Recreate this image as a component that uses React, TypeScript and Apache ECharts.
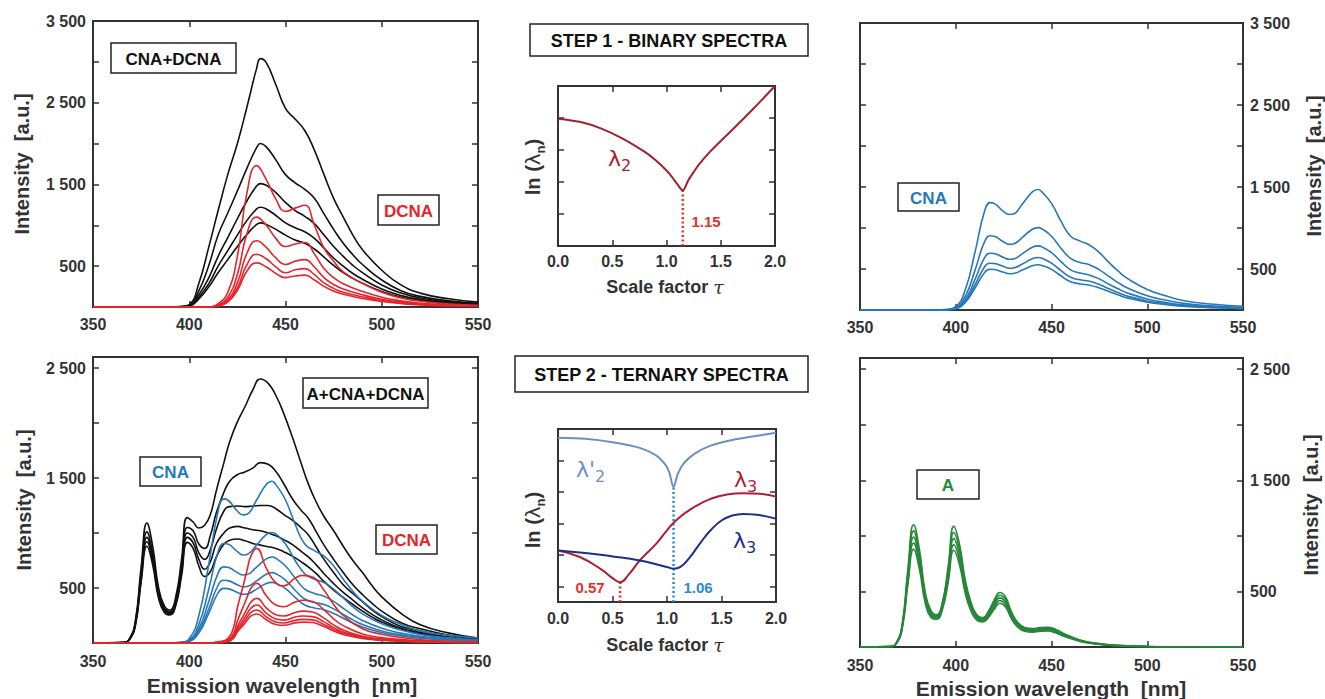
import React, { useEffect, useRef } from 'react';
import * as echarts from 'echarts';

// ---------- colours ----------
const AX = '#333333';
const BLACK = '#111111';
const RED = '#e3262b';
const BLUE = '#2878b8';
const GREEN = '#26873a';
const L2RED = '#a3202f';
const LP2 = '#6d8fc4';
const L3RED = '#b01e35';
const L3NAVY = '#1f2d8c';
const DOT_RED = '#e8302a';
const DOT_BLUE = '#2a8ad8';
const FONT = '"Liberation Sans", Arial, sans-serif';

// ---------- tick labels ----------
const WL_MIN = 350;
const WL_MAX = 550;
const WL_STEP = 50;
const TOP_Y_MAX = 3500;
const BOT_Y_MAX = 2600;
const TOP_Y_TICKS = [500, 1000, 1500, 2000, 2500, 3000];
const TOP_Y_LABELS = [500, 1500, 2500, 3500];
const BOT_Y_TICKS = [500, 1000, 1500, 2000, 2500];
const BOT_Y_LABELS = [500, 1500, 2500];
const TAU_MIN = 0;
const TAU_MAX = 2;
const TAU_STEP = 0.5;

// ---------- top-left: CNA+DCNA (black) and DCNA (red) ----------
const TL_BLACK_X = [350, 390, 395, 400, 405, 410, 415, 420, 425, 430, 435, 437, 440, 445, 450, 455, 460, 465, 470, 475, 480, 485, 490, 500, 510, 520, 535, 550];
const TL_BLACK_1 = [0, 0, 5, 30, 290, 720, 1180, 1620, 2000, 2450, 2920, 3040, 2990, 2720, 2430, 2300, 2160, 1920, 1620, 1330, 1100, 880, 700, 450, 270, 170, 100, 60];
const TL_BLACK_2 = [0, 0, 3, 20, 200, 500, 880, 1150, 1420, 1700, 1950, 2000, 1960, 1800, 1620, 1520, 1440, 1330, 1140, 950, 780, 640, 520, 330, 200, 130, 75, 45];
const TL_BLACK_3 = [0, 0, 2, 15, 150, 350, 620, 850, 1080, 1300, 1480, 1510, 1490, 1400, 1280, 1180, 1110, 1020, 880, 740, 620, 510, 420, 270, 170, 110, 65, 40];
const TL_BLACK_4 = [0, 0, 2, 12, 120, 280, 500, 690, 880, 1060, 1200, 1220, 1200, 1120, 1030, 970, 920, 840, 720, 600, 500, 410, 340, 220, 140, 90, 55, 35];
const TL_BLACK_5 = [0, 0, 1, 10, 100, 240, 420, 580, 740, 890, 1010, 1030, 1010, 950, 880, 820, 780, 710, 610, 510, 420, 350, 290, 190, 120, 78, 47, 30];

const TL_RED_X = [350, 410, 415, 420, 425, 430, 435, 440, 445, 450, 455, 460, 465, 470, 475, 480, 490, 500, 510, 520, 535, 550];
const TL_RED_1 = [0, 0, 40, 180, 620, 1400, 1730, 1560, 1320, 1170, 1210, 1245, 1000, 720, 560, 430, 290, 180, 110, 70, 35, 20];
const TL_RED_2 = [0, 0, 25, 120, 400, 900, 1100, 1000, 840, 740, 770, 790, 650, 470, 360, 285, 190, 120, 75, 45, 25, 15];
const TL_RED_3 = [0, 0, 20, 88, 295, 660, 810, 730, 600, 520, 560, 580, 490, 360, 275, 220, 150, 95, 60, 35, 20, 12];
const TL_RED_4 = [0, 0, 15, 70, 235, 520, 645, 590, 490, 420, 455, 470, 395, 295, 228, 180, 125, 80, 50, 30, 17, 10];
const TL_RED_5 = [0, 0, 12, 60, 200, 440, 540, 490, 410, 360, 380, 390, 330, 252, 195, 155, 105, 68, 42, 26, 15, 9];

// ---------- CNA (blue), top-right and bottom-left ----------
const CNA_X = [350, 390, 395, 400, 405, 410, 415, 418, 420, 425, 428, 430, 435, 440, 443, 445, 450, 455, 460, 465, 470, 475, 480, 485, 490, 500, 510, 520, 535, 550];
const CNA_1 = [0, 0, 5, 40, 250, 700, 1200, 1310, 1300, 1200, 1165, 1170, 1300, 1440, 1470, 1440, 1300, 1080, 900, 840, 790, 700, 580, 470, 380, 250, 170, 110, 70, 45];
const CNA_2 = [0, 0, 4, 28, 170, 480, 830, 905, 900, 830, 800, 805, 890, 985, 1005, 990, 900, 750, 630, 580, 550, 490, 410, 330, 265, 175, 118, 78, 48, 30];
const CNA_3 = [0, 0, 3, 22, 130, 370, 635, 692, 688, 640, 618, 622, 690, 765, 782, 770, 700, 590, 490, 450, 425, 378, 315, 255, 205, 135, 90, 60, 38, 24];
const CNA_4 = [0, 0, 3, 18, 108, 305, 525, 570, 567, 530, 510, 513, 565, 625, 640, 630, 572, 480, 400, 368, 350, 310, 260, 210, 168, 110, 75, 50, 31, 20];
const CNA_5 = [0, 0, 2, 15, 93, 265, 455, 497, 494, 460, 442, 445, 490, 540, 551, 543, 495, 415, 345, 318, 302, 268, 225, 182, 145, 95, 65, 43, 27, 17];

// ---------- bottom-left: A+CNA+DCNA (black) and DCNA (red) ----------
const BL_BLACK_X = [350, 366, 369, 372, 375, 378, 381, 384, 387, 390, 393, 396, 399, 402, 405, 408, 411, 414, 418, 421, 425, 429, 433, 437, 441, 445, 449, 454, 458, 462, 466, 470, 475, 480, 485, 490, 495, 500, 510, 520, 535, 550];
const BL_BLACK_1 = [0, 5, 40, 200, 690, 1090, 880, 510, 340, 300, 420, 760, 1140, 1100, 1045, 1070, 1170, 1380, 1640, 1830, 2010, 2150, 2300, 2400, 2360, 2250, 2090, 1850, 1640, 1440, 1280, 1150, 1020, 880, 750, 640, 520, 420, 270, 165, 90, 45];
const BL_BLACK_2 = [0, 5, 38, 185, 640, 1010, 820, 475, 320, 285, 390, 710, 1050, 1020, 900, 860, 980, 1180, 1370, 1470, 1530, 1555, 1590, 1640, 1625, 1560, 1450, 1300, 1210, 1130, 1010, 890, 760, 640, 530, 440, 360, 290, 185, 130, 70, 35];
const BL_BLACK_3 = [0, 4, 36, 175, 610, 960, 780, 450, 305, 275, 370, 670, 1000, 960, 820, 760, 850, 1030, 1200, 1240, 1245, 1240, 1245, 1250, 1250, 1220, 1170, 1110, 1050, 980, 870, 760, 640, 530, 450, 375, 300, 240, 150, 110, 55, 28];
const BL_BLACK_4 = [0, 4, 34, 165, 580, 920, 745, 430, 290, 265, 355, 640, 960, 910, 760, 670, 740, 900, 1000, 1045, 1060, 1045, 1030, 1020, 1000, 975, 940, 890, 835, 780, 710, 630, 540, 460, 390, 320, 260, 210, 135, 95, 50, 25];
const BL_BLACK_5 = [0, 4, 32, 155, 550, 880, 710, 410, 280, 255, 340, 610, 915, 860, 700, 605, 650, 780, 900, 935, 945, 930, 905, 890, 875, 860, 830, 785, 740, 690, 630, 560, 480, 415, 350, 290, 235, 190, 125, 85, 45, 22];

const BL_RED_X = [350, 410, 415, 420, 423, 425, 428, 430, 432, 435, 440, 445, 449, 455, 459, 464, 470, 475, 480, 490, 500, 510, 520, 535, 550];
const BL_RED_1 = [0, 0, 10, 40, 140, 320, 520, 660, 790, 860, 680, 545, 520, 590, 615, 600, 480, 350, 250, 130, 80, 50, 30, 15, 8];
const BL_RED_2 = [0, 0, 6, 25, 88, 200, 328, 415, 498, 542, 430, 345, 330, 372, 388, 378, 302, 220, 158, 82, 50, 32, 20, 10, 6];
const BL_RED_3 = [0, 0, 5, 19, 66, 150, 245, 310, 371, 406, 320, 257, 245, 277, 290, 282, 226, 165, 118, 62, 38, 24, 15, 8, 5];
const BL_RED_4 = [0, 0, 4, 16, 56, 128, 208, 264, 316, 345, 272, 218, 208, 236, 246, 240, 192, 140, 100, 52, 32, 20, 12, 7, 4];
const BL_RED_5 = [0, 0, 3, 14, 49, 112, 182, 231, 277, 300, 238, 191, 182, 206, 215, 210, 168, 122, 88, 46, 28, 18, 11, 6, 4];
const BL_RED_6 = [0, 0, 3, 12, 43, 99, 161, 205, 245, 264, 211, 169, 161, 183, 190, 186, 149, 108, 78, 41, 25, 16, 10, 5, 3];

// ---------- bottom-right: A (green) ----------
const A_X = [350, 366, 369, 372, 375, 378, 381, 384, 387, 390, 393, 396, 399, 402, 405, 408, 411, 414, 417, 420, 423, 426, 429, 432, 436, 440, 444, 448, 452, 456, 460, 465, 470, 480, 490, 500, 520, 550];
const A_1 = [0, 5, 40, 200, 700, 1100, 880, 500, 330, 290, 400, 720, 1085, 920, 600, 400, 290, 262, 320, 420, 490, 450, 320, 230, 175, 165, 175, 178, 160, 125, 95, 62, 42, 20, 10, 5, 2, 0];
const A_2 = [0, 5, 38, 190, 665, 1045, 836, 475, 316, 280, 384, 684, 1030, 874, 570, 382, 278, 252, 306, 400, 466, 428, 305, 219, 167, 157, 167, 170, 152, 119, 90, 59, 40, 19, 10, 5, 2, 0];
const A_3 = [0, 4, 36, 180, 630, 990, 792, 450, 300, 270, 368, 648, 975, 828, 540, 362, 266, 243, 292, 380, 442, 405, 289, 208, 158, 149, 158, 161, 144, 113, 86, 56, 38, 18, 9, 4, 2, 0];
const A_4 = [0, 4, 34, 170, 595, 935, 748, 425, 284, 260, 352, 612, 920, 782, 510, 342, 254, 234, 278, 358, 418, 383, 273, 196, 150, 141, 150, 152, 136, 107, 81, 53, 36, 17, 8, 4, 2, 0];
const A_5 = [0, 4, 32, 160, 560, 880, 704, 400, 268, 250, 336, 576, 870, 736, 480, 322, 242, 225, 264, 337, 394, 360, 257, 185, 141, 133, 141, 144, 128, 100, 76, 50, 34, 16, 8, 4, 2, 0];

// ---------- step 1: ln(lambda_2) vs tau ----------
const S1_TAU = [0, 0.2, 0.4, 0.6, 0.8, 0.9, 1.0, 1.05, 1.1, 1.15, 1.2, 1.25, 1.3, 1.4, 1.5, 1.6, 1.8, 2.0];
const S1_L2 = [3.98, 3.88, 3.67, 3.35, 2.94, 2.68, 2.36, 2.16, 1.93, 1.74, 2.05, 2.31, 2.55, 2.94, 3.28, 3.61, 4.29, 5.0];
const S1_Y_MIN = 0;
const S1_Y_MAX = 5;
const S1_Y_TICKS = [1, 2, 3, 4];
const S1_OPT_TAU = 1.15;
const S1_OPT_VAL = 1.74;

// ---------- step 2: ln(lambda) vs tau ----------
const S2_LP2_TAU = [0, 0.25, 0.5, 0.75, 0.9, 0.98, 1.02, 1.06, 1.1, 1.15, 1.25, 1.4, 1.6, 1.8, 2.0];
const S2_LP2 = [4.72, 4.69, 4.58, 4.4, 4.16, 3.89, 3.63, 3.15, 3.58, 3.89, 4.21, 4.47, 4.65, 4.77, 4.88];
const S2_L3R_TAU = [0, 0.2, 0.4, 0.5, 0.57, 0.65, 0.75, 0.9, 1.0, 1.1, 1.25, 1.4, 1.55, 1.7, 1.85, 2.0];
const S2_L3R = [1.14, 0.93, 0.53, 0.26, 0.13, 0.38, 0.82, 1.35, 1.78, 2.15, 2.52, 2.78, 2.92, 2.96, 2.94, 2.85];
const S2_L3B_TAU = [0, 0.25, 0.5, 0.75, 0.9, 1.0, 1.06, 1.12, 1.2, 1.3, 1.4, 1.5, 1.6, 1.7, 1.8, 1.9, 2.0];
const S2_L3B = [1.14, 1.06, 0.95, 0.82, 0.7, 0.61, 0.56, 0.61, 0.88, 1.35, 1.78, 2.09, 2.25, 2.3, 2.28, 2.23, 2.15];
const S2_Y_MIN = -0.5;
const S2_Y_MAX = 5;
const S2_Y_TICKS = [0, 1, 2, 3, 4];
const S2_OPT_RED_TAU = 0.57;
const S2_OPT_RED_VAL = 0.13;
const S2_OPT_BLUE_TAU = 1.06;
const S2_OPT_BLUE_VAL = 3.15;

// ---------- helpers ----------
const zip = (xs: number[], ys: number[]) => xs.map((x, i) => [x, ys[i]]);
const fmtThousands = (v: number) =>
  v >= 1000 ? `${Math.floor(v / 1000)} ${String(v % 1000).padStart(3, '0')}` : String(v);

const tick = (custom?: number[]) => {
  const t: any = { show: true, inside: true, length: 6, lineStyle: { color: AX, width: 1.5 } };
  if (custom) t.customValues = custom;
  return t;
};
const labelStyle = { color: AX, fontSize: 16, fontWeight: 'bold', fontFamily: FONT };
const noLine = { show: false, onZero: false };

function buildOption() {
  const grids = [
    { left: 93, top: 21, width: 385, height: 286 },
    { left: 558, top: 86, width: 217, height: 160 },
    { left: 860, top: 23, width: 383, height: 287 },
    { left: 93, top: 357, width: 385, height: 286 },
    { left: 558, top: 429, width: 218, height: 173 },
    { left: 860, top: 358, width: 383, height: 289 },
  ].map((g) => ({ ...g, show: true, borderColor: AX, borderWidth: 2, backgroundColor: 'transparent', containLabel: false }));

  const xAxis: any[] = [];
  const yAxis: any[] = [];
  const addX = (g: number, min: number, max: number, interval: number, fmt: (v: number) => string, margin: number) => {
    xAxis.push({
      type: 'value', gridIndex: g, position: 'bottom', min, max, interval,
      axisLine: noLine, splitLine: { show: false }, axisTick: tick(),
      axisLabel: { ...labelStyle, margin, formatter: fmt },
    });
    xAxis.push({
      type: 'value', gridIndex: g, position: 'top', min, max, interval,
      axisLine: noLine, splitLine: { show: false }, axisTick: tick(),
      axisLabel: { show: false },
    });
  };
  const addY = (g: number, min: number, max: number, side: string, ticks: number[], labels: number[] | null) => {
    const other = side === 'left' ? 'right' : 'left';
    yAxis.push({
      type: 'value', gridIndex: g, position: side, min, max,
      axisLine: noLine, splitLine: { show: false }, axisTick: tick(ticks),
      axisLabel: labels
        ? { ...labelStyle, margin: 7, customValues: labels, formatter: fmtThousands }
        : { show: false },
    });
    yAxis.push({
      type: 'value', gridIndex: g, position: other, min, max,
      axisLine: noLine, splitLine: { show: false }, axisTick: tick(ticks),
      axisLabel: { show: false },
    });
  };
  const wlFmt = (v: number) => String(v);
  const tauFmt = (v: number) => v.toFixed(1);

  addX(0, WL_MIN, WL_MAX, WL_STEP, wlFmt, 9);
  addY(0, 0, TOP_Y_MAX, 'left', TOP_Y_TICKS, TOP_Y_LABELS);
  addX(1, TAU_MIN, TAU_MAX, TAU_STEP, tauFmt, 7);
  addY(1, S1_Y_MIN, S1_Y_MAX, 'left', S1_Y_TICKS, null);
  addX(2, WL_MIN, WL_MAX, WL_STEP, wlFmt, 9);
  addY(2, 0, TOP_Y_MAX, 'right', TOP_Y_TICKS, TOP_Y_LABELS);
  addX(3, WL_MIN, WL_MAX, WL_STEP, wlFmt, 10);
  addY(3, 0, BOT_Y_MAX, 'left', BOT_Y_TICKS, BOT_Y_LABELS);
  addX(4, TAU_MIN, TAU_MAX, TAU_STEP, tauFmt, 8);
  addY(4, S2_Y_MIN, S2_Y_MAX, 'left', S2_Y_TICKS, null);
  addX(5, WL_MIN, WL_MAX, WL_STEP, wlFmt, 10);
  addY(5, 0, BOT_Y_MAX, 'right', BOT_Y_TICKS, BOT_Y_LABELS);

  const series: any[] = [];
  const line = (g: number, xs: number[], ys: number[], color: string, width = 1.6, z = 2, smooth: number = 0.5) =>
    series.push({
      type: 'line', xAxisIndex: 2 * g, yAxisIndex: 2 * g, data: zip(xs, ys),
      symbol: 'none', showSymbol: false, smooth, silent: true, z,
      lineStyle: { color, width },
    });
  const dotted = (g: number, tau: number, from: number, to: number, color: string) =>
    series.push({
      type: 'line', xAxisIndex: 2 * g, yAxisIndex: 2 * g, data: [[tau, from], [tau, to]],
      symbol: 'none', silent: true, z: 1,
      lineStyle: { color, width: 2.5, type: [2, 2.5] },
    });

  // top-left
  [TL_BLACK_1, TL_BLACK_2, TL_BLACK_3, TL_BLACK_4, TL_BLACK_5].forEach((ys) => line(0, TL_BLACK_X, ys, BLACK, 1.6, 2));
  [TL_RED_1, TL_RED_2, TL_RED_3, TL_RED_4, TL_RED_5].forEach((ys) => line(0, TL_RED_X, ys, RED, 1.6, 3));
  // top-middle
  dotted(1, S1_OPT_TAU, S1_Y_MIN, S1_OPT_VAL, DOT_RED);
  line(1, S1_TAU, S1_L2, L2RED, 2, 3, 0.3);
  // top-right
  [CNA_1, CNA_2, CNA_3, CNA_4, CNA_5].forEach((ys) => line(2, CNA_X, ys, BLUE, 1.6, 2));
  // bottom-left
  [BL_BLACK_1, BL_BLACK_2, BL_BLACK_3, BL_BLACK_4, BL_BLACK_5].forEach((ys) => line(3, BL_BLACK_X, ys, BLACK, 1.6, 2));
  [CNA_1, CNA_2, CNA_3, CNA_4, CNA_5].forEach((ys) => line(3, CNA_X, ys, BLUE, 1.6, 3));
  [BL_RED_1, BL_RED_2, BL_RED_3, BL_RED_4, BL_RED_5, BL_RED_6].forEach((ys) => line(3, BL_RED_X, ys, RED, 1.6, 4));
  // bottom-middle
  dotted(4, S2_OPT_RED_TAU, S2_Y_MIN, S2_OPT_RED_VAL, DOT_RED);
  dotted(4, S2_OPT_BLUE_TAU, S2_Y_MIN, S2_OPT_BLUE_VAL, DOT_BLUE);
  line(4, S2_LP2_TAU, S2_LP2, LP2, 2, 3, 0.3);
  line(4, S2_L3R_TAU, S2_L3R, L3RED, 2, 3, 0.5);
  line(4, S2_L3B_TAU, S2_L3B, L3NAVY, 2, 3, 0.5);
  // bottom-right
  [A_1, A_2, A_3, A_4, A_5].forEach((ys) => line(5, A_X, ys, GREEN, 1.6, 2));

  // ---------- graphic annotations ----------
  const graphic: any[] = [];
  const box = (x: number, y: number, w: number, h: number, text: string, color: string, fs = 16) => {
    graphic.push({
      type: 'rect', z: 100, shape: { x, y, width: w, height: h },
      style: { fill: '#ffffff', stroke: '#222222', lineWidth: 1.5 },
    });
    graphic.push({
      type: 'text', z: 101, x: x + w / 2, y: y + h / 2 + 1,
      style: {
        text, fill: color, fontSize: fs, fontWeight: 'bold', fontFamily: FONT,
        align: 'center', verticalAlign: 'middle', textAlign: 'center', textVerticalAlign: 'middle',
      },
    });
  };
  box(111, 43, 125, 30, 'CNA+DCNA', BLACK, 17);
  box(378, 195, 61, 30, 'DCNA', RED, 17);
  box(303, 378, 125, 30, 'A+CNA+DCNA', BLACK, 17);
  box(140, 457, 61, 29, 'CNA', BLUE, 17);
  box(376, 525, 61, 29, 'DCNA', RED, 17);
  box(898, 183, 61, 28, 'CNA', BLUE, 17);
  box(917, 470, 62, 29, 'A', GREEN, 17);
  box(530, 24, 278, 32, 'STEP 1 - BINARY SPECTRA', BLACK, 18);
  box(515, 356, 293, 36, 'STEP 2 - TERNARY SPECTRA', BLACK, 18);

  const plainText = (x: number, y: number, text: string, fs: number, color: string, rot = 0, align = 'center') =>
    graphic.push({
      type: 'text', z: 100, x, y, rotation: rot,
      style: {
        text, fill: color, fontSize: fs, fontWeight: 'bold', fontFamily: FONT,
        align, verticalAlign: 'middle', textAlign: align, textVerticalAlign: 'middle',
      },
    });
  // axis titles
  plainText(22, 164, 'Intensity  [a.u.]', 20, AX, Math.PI / 2);
  plainText(24, 500, 'Intensity  [a.u.]', 20, AX, Math.PI / 2);
  plainText(1314, 166, 'Intensity  [a.u.]', 20, AX, Math.PI / 2);
  plainText(1311, 505, 'Intensity  [a.u.]', 20, AX, Math.PI / 2);
  plainText(282, 685, 'Emission wavelength  [nm]', 21, AX);
  plainText(1051, 688, 'Emission wavelength  [nm]', 21, AX);

  const richText = (x: number, y: number, text: string, rich: any, rot = 0, align = 'center') =>
    graphic.push({
      type: 'text', z: 100, x, y, rotation: rot,
      style: { text, rich, align, verticalAlign: 'middle', textAlign: align, textVerticalAlign: 'middle' },
    });
  const tauRich = {
    a: { fontSize: 18, fontWeight: 'bold', fontFamily: FONT, fill: AX, lineHeight: 24 },
    t: { fontSize: 19, fontStyle: 'italic', fontFamily: '"DejaVu Serif", serif', fill: AX, lineHeight: 24 },
  };
  richText(665, 287, '{a|Scale factor }{t|τ}', tauRich);
  richText(665, 645, '{a|Scale factor }{t|τ}', tauRich);
  const lnRich = {
    a: { fontSize: 20, fontWeight: 'bold', fontFamily: FONT, fill: AX, lineHeight: 28, verticalAlign: 'middle' },
    g: { fontSize: 20, fontFamily: '"DejaVu Sans", sans-serif', fill: AX, lineHeight: 28, verticalAlign: 'middle' },
    b: { fontSize: 13, fontWeight: 'bold', fontFamily: FONT, fill: AX, lineHeight: 28, verticalAlign: 'bottom' },
  };
  richText(533, 167, '{a|ln (}{g|λ}{b|n}{a|)}', lnRich, Math.PI / 2);
  richText(533, 520, '{a|ln (}{g|λ}{b|n}{a|)}', lnRich, Math.PI / 2);

  const lamRich = (color: string) => ({
    m: { fontSize: 22, fontFamily: '"DejaVu Sans", sans-serif', fill: color, lineHeight: 30, verticalAlign: 'middle' },
    s: { fontSize: 16, fontFamily: '"DejaVu Sans", sans-serif', fill: color, lineHeight: 30, verticalAlign: 'bottom' },
  });
  richText(608, 158, '{m|λ}{s|2}', lamRich(L2RED), 0, 'left');
  richText(576, 469, "{m|λ'}{s|2}", lamRich(LP2), 0, 'left');
  richText(734, 479, '{m|λ}{s|3}', lamRich(L3RED), 0, 'left');
  richText(733, 540, '{m|λ}{s|3}', lamRich(L3NAVY), 0, 'left');

  plainText(706, 221, S1_OPT_TAU.toFixed(2), 15, DOT_RED);
  plainText(590, 587, S2_OPT_RED_TAU.toFixed(2), 15, DOT_RED);
  plainText(698, 587, S2_OPT_BLUE_TAU.toFixed(2), 15, DOT_BLUE);

  return {
    animation: false,
    backgroundColor: '#ffffff',
    grid: grids,
    xAxis,
    yAxis,
    series,
    graphic,
  };
}

export default function App() {
  const ref = useRef<HTMLDivElement>(null);
  useEffect(() => {
    if (!ref.current) return;
    const chart = echarts.init(ref.current, undefined, { renderer: 'svg' });
    chart.setOption(buildOption() as any);
    return () => chart.dispose();
  }, []);
  return (
    <div
      ref={ref}
      style={{ position: 'fixed', left: 0, top: 0, width: 1325, height: 699, background: '#fff' }}
    />
  );
}
